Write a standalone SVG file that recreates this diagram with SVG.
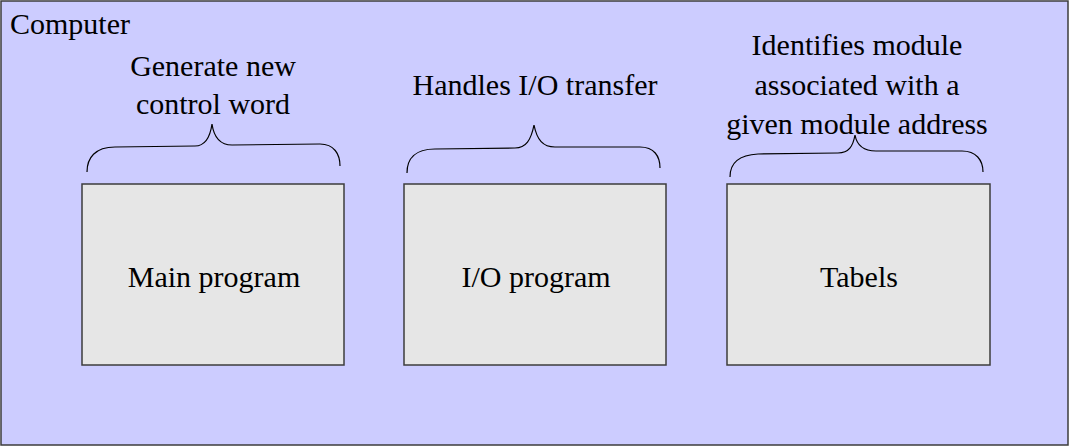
<svg xmlns="http://www.w3.org/2000/svg" width="1070" height="447" viewBox="0 0 1070 447">
  <style>
    .frame { fill: #ccccff; stroke: #3c3c3c; stroke-width: 1.5; }
    .box { fill: #e6e6e6; stroke: #3c3c3c; stroke-width: 1.5; }
    .brace { fill: none; stroke: #000; stroke-width: 1.2; }
    text { font-family: "Liberation Serif", "Times New Roman", serif; font-size: 30px; fill: #000; }
    .c { text-anchor: middle; }
  </style>

  <!-- computer boundary -->
  <g id="computer">
    <rect class="frame" x="1" y="1" width="1067" height="444"/>
    <text x="10" y="34">Computer</text>
  </g>

  <g id="main-program">
    <rect class="box" x="82" y="184" width="262" height="181"/>
    <text class="c" x="214" y="287">Main program</text>
  </g>

  <g id="io-program">
    <rect class="box" x="404" y="184" width="262" height="181"/>
    <text class="c" x="536" y="287">I/O program</text>
  </g>

  <g id="tables">
    <rect class="box" x="727" y="184" width="263" height="181"/>
    <text class="c" x="859" y="287">Tabels</text>
  </g>

  <!-- braces with their annotations -->
  <g id="connectors">
    <path class="brace" d="M87 172 C87 158 95 147 115 147 L195 146 C205 146 210 138 212 124 C214 138 220 145 232 145 L320 144 C334 144 340 154 340 166"/>
    <path class="brace" d="M407 173 C407 159 415 149 435 149 L515 148 C526 148 531 140 534 125 C537 140 543 147 555 147 L640 147 C654 147 660 156 660 168"/>
    <path class="brace" d="M730 177 C730 163 738 155 758 154 L838 153 C849 153 853 146 855 135 C857 146 864 151 876 151 L962 151 C976 151 983 160 983 172"/>
  </g>

  <g id="labels">
    <text class="c" x="213" y="76">Generate new</text>
    <text class="c" x="213" y="114">control word</text>
    <text class="c" x="535" y="95">Handles I/O transfer</text>
    <text class="c" x="857" y="55">Identifies module</text>
    <text class="c" x="857" y="95">associated with a</text>
    <text class="c" x="857" y="134">given module address</text>
  </g>
</svg>
